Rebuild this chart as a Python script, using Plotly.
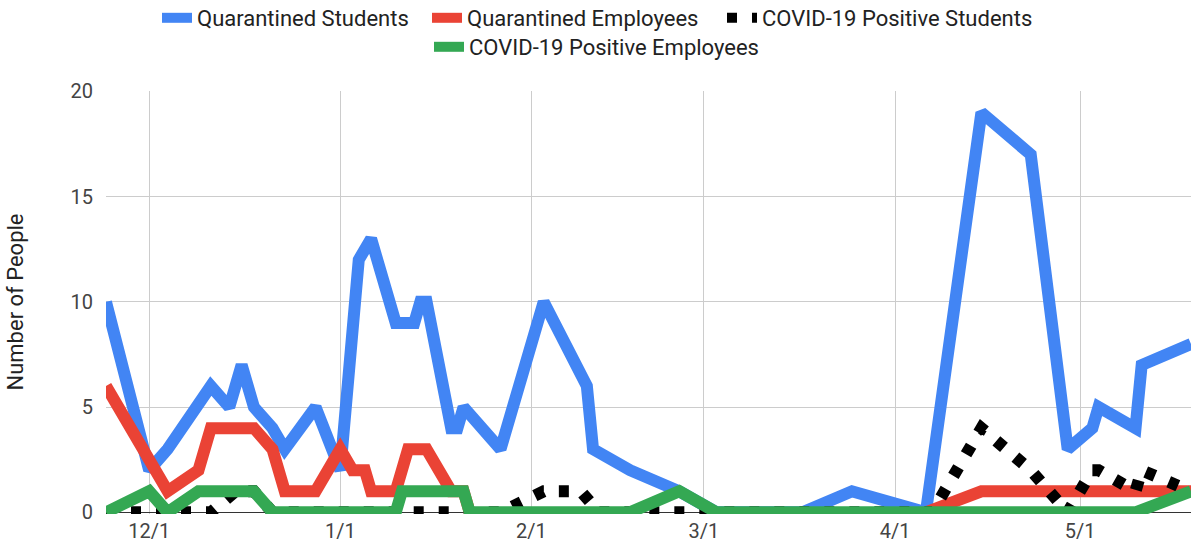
import plotly.graph_objects as go

# ---------------- data ----------------
q_students_dates = [
    "2020-11-24", "2020-12-01", "2020-12-04", "2020-12-11", "2020-12-14", "2020-12-16",
    "2020-12-18", "2020-12-21", "2020-12-23", "2020-12-28", "2021-01-01", "2021-01-03",
    "2021-01-04", "2021-01-06", "2021-01-10", "2021-01-13", "2021-01-14", "2021-01-15",
    "2021-01-19", "2021-01-20", "2021-01-21", "2021-01-27", "2021-02-03", "2021-02-10",
    "2021-02-11", "2021-02-17", "2021-02-25", "2021-03-03", "2021-03-17", "2021-03-25",
    "2021-04-06", "2021-04-15", "2021-04-23", "2021-04-29", "2021-05-03", "2021-05-04",
    "2021-05-10", "2021-05-11", "2021-05-19",
]
q_students = [
    10, 2, 3, 6, 5, 7,
    5, 4, 3, 5, 2, 8,
    12, 13, 9, 9, 10, 10,
    4, 4, 5, 3, 10, 6,
    3, 2, 1, 0, 0, 1,
    0, 19, 17, 3, 4, 5,
    4, 7, 8,
]

q_employees_dates = [
    "2020-11-24", "2020-12-04", "2020-12-09", "2020-12-11", "2020-12-18", "2020-12-21",
    "2020-12-23", "2020-12-28", "2021-01-01", "2021-01-03", "2021-01-05", "2021-01-06",
    "2021-01-10", "2021-01-12", "2021-01-15", "2021-01-19", "2021-01-21", "2021-01-22",
    "2021-03-01", "2021-04-06", "2021-04-15", "2021-05-19",
]
q_employees = [
    6, 1, 2, 4, 4, 3,
    1, 1, 3, 2, 2, 1,
    1, 3, 3, 1, 1, 0,
    None, 0, 1, 1,
]

pos_students_dates = [
    "2020-11-24", "2020-12-11", "2020-12-15", "2020-12-18", "2020-12-21", "2021-01-27",
    "2021-02-03", "2021-02-09", "2021-02-12", "2021-04-07", "2021-04-15", "2021-04-23",
    "2021-04-29", "2021-05-03", "2021-05-04", "2021-05-10", "2021-05-11", "2021-05-19",
]
pos_students = [
    0, 0, 1, 1, 0, 0,
    1, 1, 0, 0, 4, 2,
    0, 2, 2, 1, 2, 1,
]

pos_employees_dates = [
    "2020-11-24", "2020-12-01", "2020-12-04", "2020-12-09", "2020-12-18", "2020-12-21",
    "2021-01-10", "2021-01-11", "2021-01-21", "2021-01-22", "2021-02-17", "2021-02-25",
    "2021-03-03", "2021-05-10", "2021-05-19",
]
pos_employees = [
    0, 1, 0, 1, 1, 0,
    0, 1, 1, 0, 0, 1,
    0, 0, 1,
]

series_names = [
    "Quarantined Students",
    "Quarantined Employees",
    "COVID-19 Positive Students",
    "COVID-19 Positive Employees",
]
y_ticks = [0, 5, 10, 15, 20]
x_range = ["2020-11-24", "2021-05-19"]

# ---------------- figure ----------------
FONT = "Roboto, Arial, sans-serif"
LW = 12
W, H = 1204, 548

fig = go.Figure()
fig.add_trace(go.Scatter(
    x=q_students_dates, y=q_students, name=series_names[0], mode="lines",
    line=dict(color="#4285F4", width=LW), legend="legend",
))
fig.add_trace(go.Scatter(
    x=q_employees_dates, y=q_employees, name=series_names[1], mode="lines",
    line=dict(color="#EA4335", width=LW), legend="legend2",
))
fig.add_trace(go.Scatter(
    x=pos_students_dates, y=pos_students, name=series_names[2], mode="lines",
    line=dict(color="#000000", width=LW, dash="10px,15px"), legend="legend3",
))
fig.add_trace(go.Scatter(
    x=pos_employees_dates, y=pos_employees, name=series_names[3], mode="lines",
    line=dict(color="#34A853", width=LW), legend="legend4",
))


def leg(x_px, y_px):
    return dict(
        orientation="h", xref="container", yref="container",
        x=x_px / W, xanchor="left", y=1 - y_px / H, yanchor="middle",
        font=dict(family=FONT, size=22, color="#222222"),
        itemwidth=30, bgcolor="rgba(0,0,0,0)", borderwidth=0,
    )


fig.update_layout(
    width=W, height=H,
    margin=dict(l=106, r=13, t=91, b=34, autoexpand=False),
    paper_bgcolor="white", plot_bgcolor="white",
    font=dict(family=FONT, size=20, color="#444444"),
    showlegend=True,
    legend=leg(157, 18),
    legend2=leg(427, 18),
    legend3=leg(722, 18),
    legend4=leg(429, 47),
    xaxis=dict(
        type="date", range=x_range, dtick="M1", tick0="2020-12-01",
        tickformat="%-m/%-d", showgrid=True, gridcolor="#cccccc", gridwidth=1,
        showline=False, zeroline=False, ticks="", ticklabelstandoff=3,
        tickfont=dict(family=FONT, size=20, color="#444444"), automargin=False,
    ),
    yaxis=dict(
        range=[-0.08, 20.02], tickvals=y_ticks, showgrid=True,
        gridcolor="#cccccc", gridwidth=1, zeroline=True, zerolinecolor="#333333",
        zerolinewidth=1, showline=False, ticks="", ticklabelstandoff=12,
        tickfont=dict(family=FONT, size=20, color="#444444"), automargin=False,
    ),
    annotations=[dict(
        text="Number of People", textangle=-90,
        xref="paper", yref="paper", x=(15 - 106) / 1085, y=0.5,
        xanchor="center", yanchor="middle", showarrow=False,
        font=dict(family=FONT, size=22, color="#222222"),
    )],
)

fig.write_html(
    "out.html",
    config={"displayModeBar": False},
    post_script="document.body.style.margin='0px';document.body.style.padding='0px';",
)
